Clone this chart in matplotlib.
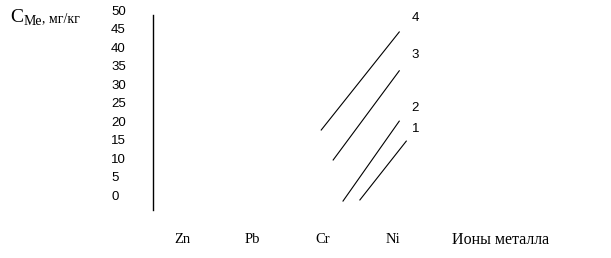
import matplotlib
matplotlib.use("Agg")
import matplotlib.pyplot as plt

# categories on the x axis (numeric positions 1..4)
metals = ["Zn", "Pb", "Cr", "Ni"]
metal_pos = [1, 2, 3, 4]
y_ticks = [0, 5, 10, 15, 20, 25, 30, 35, 40, 45, 50]

# curves 1..4: start and end points (x position, C_Me)
curve_names = ["1", "2", "3", "4"]
curve_x = [[3.53, 4.19], [3.29, 4.09], [3.15, 4.09], [2.98, 4.09]]
curve_y = [[-0.8, 15.1], [-1.1, 20.5], [10.0, 34.1], [18.1, 44.6]]
label_y = [18.5, 24.0, 38.5, 48.5]

fig = plt.figure(figsize=(6.11, 2.58), dpi=100)
ax = fig.add_axes([0, 0, 1, 1])
ax.set_xlim(-1.589, 7.102)
ax.set_ylim(-16.49, 53.24)
ax.axis("off")

# vertical axis line
ax.plot([0.5875, 0.5875], [-3.5, 49.2], color="black", lw=1.0)

for v in y_ticks:
    ax.text(-0.01, v, str(v), fontsize=9.5, family="Liberation Sans",
            ha="left", va="center")

for name, x in zip(metals, metal_pos):
    ax.text(x, -11.6, name, fontsize=10.5, family="Liberation Serif",
            ha="center", va="center")
ax.text(4.84, -11.6, "Ионы металла", fontsize=11.5, family="Liberation Serif",
        ha="left", va="center")

for name, xs, ys, ly in zip(curve_names, curve_x, curve_y, label_y):
    ax.plot(xs, ys, color="black", lw=0.8)
    ax.text(4.32, ly, name, fontsize=9.5, family="Liberation Sans",
            ha="center", va="center")

# y axis title: C_Me, мг/кг
ax.text(-1.447, 48.6, "C", fontsize=14, family="Liberation Serif",
        ha="left", va="center")
ax.text(-1.25, 47.3, "Me", fontsize=10, family="Liberation Serif",
        ha="left", va="center")
ax.text(-0.99, 48.1, ", мг/кг", fontsize=10, family="Liberation Serif",
        ha="left", va="center")

fig.savefig("out.png", dpi=100)
